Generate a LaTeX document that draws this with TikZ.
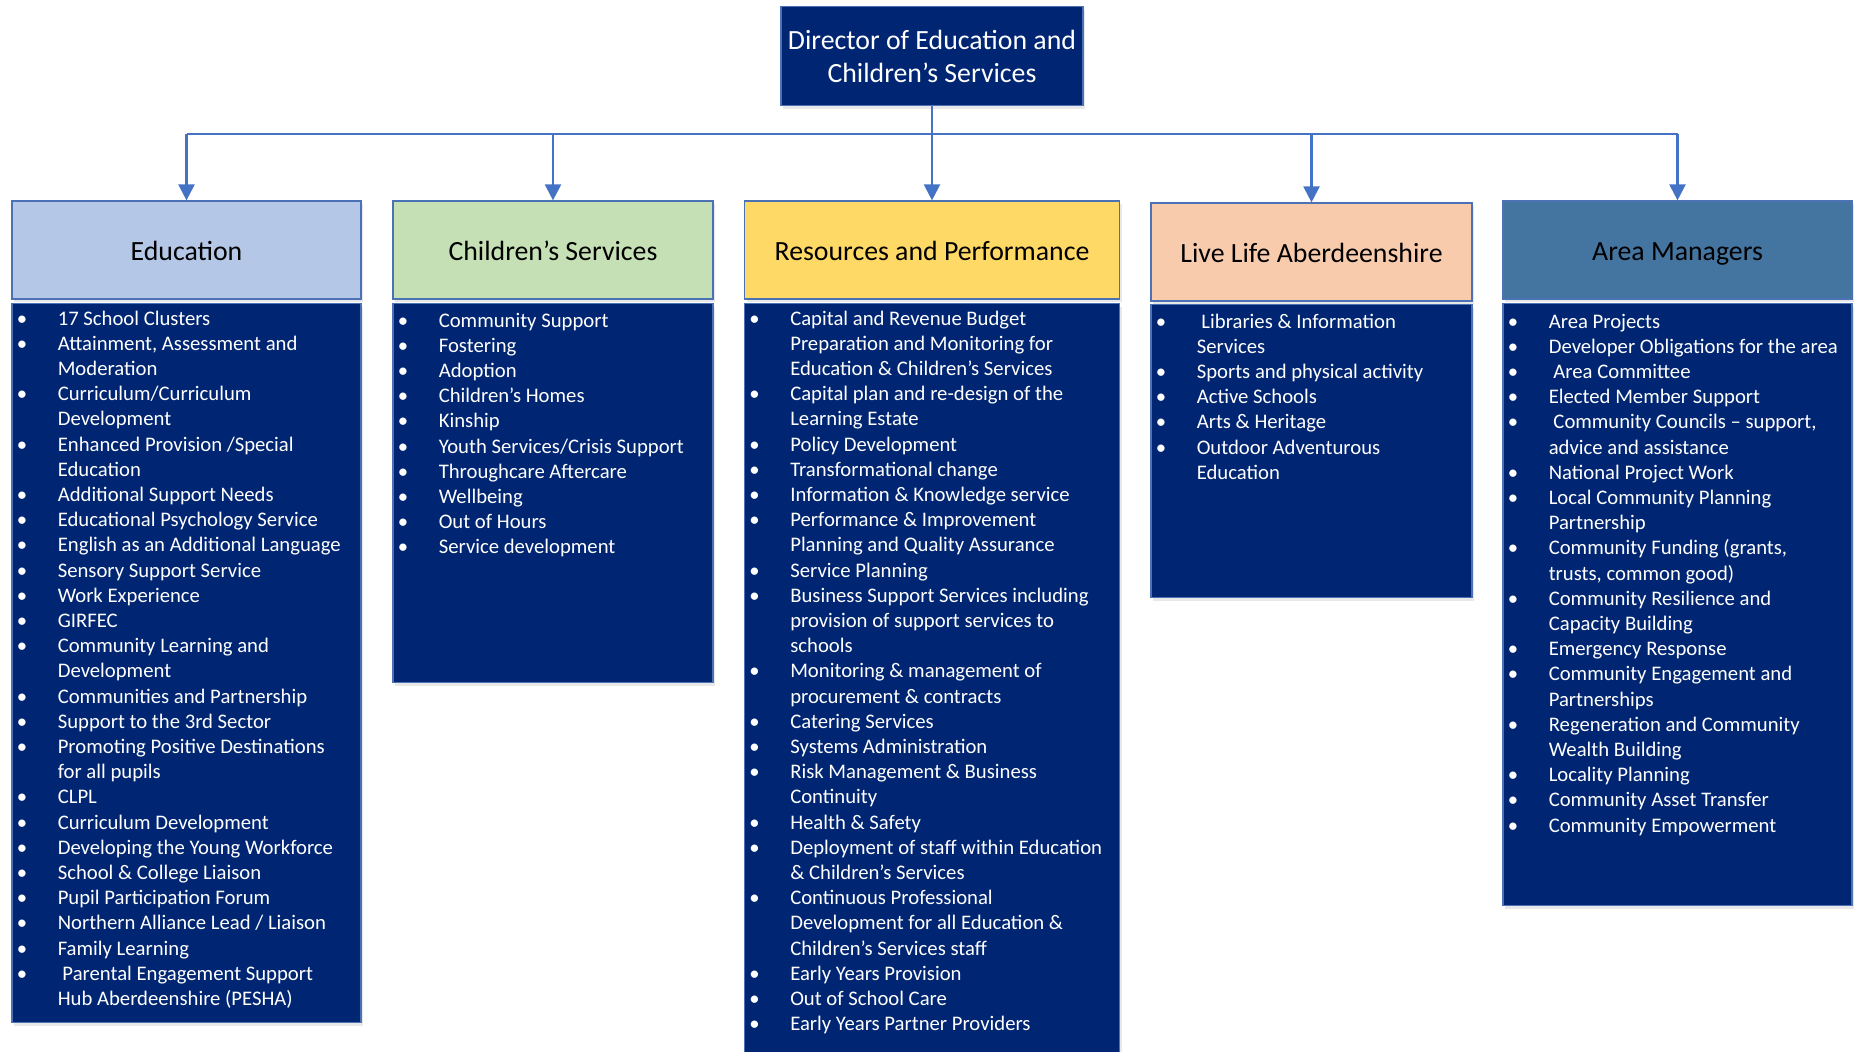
\documentclass[tikz,border=0pt]{standalone}
\usepackage{fontspec}
\setmainfont{Carlito}
\usetikzlibrary{arrows.meta,shadows}

\definecolor{navy}{RGB}{0,38,115}
\definecolor{edge}{RGB}{74,114,180}
\definecolor{linkblue}{RGB}{68,114,196}
\definecolor{eduhead}{RGB}{180,199,231}
\definecolor{chihead}{RGB}{197,224,180}
\definecolor{reshead}{RGB}{255,217,102}
\definecolor{livehead}{RGB}{248,203,173}
\definecolor{areahead}{RGB}{68,116,160}

% bullet and hanging indent for the lists
\newcommand{\bitem}{\makebox[20.5pt][l]{\textbullet}}
\newcommand{\bcont}{\hspace*{20.5pt}}

\tikzset{
  boxshadow/.style={drop shadow={shadow xshift=1pt,shadow yshift=-1.5pt,opacity=0.18,fill=gray}},
  dir/.style={draw=edge,line width=0.6pt,fill=navy,text=white,align=center,
    minimum width=151pt,minimum height=49.5pt,inner sep=0pt,
    font=\fontsize{13.9}{16.5}\selectfont,boxshadow},
  head/.style={draw=edge,line width=0.6pt,minimum height=49pt,inner sep=0pt,
    text height=12pt,text depth=1.5pt,
    font=\fontsize{13.9}{16.5}\selectfont,text=black,boxshadow},
  body/.style={draw=edge,line width=0.6pt,fill=navy,anchor=north,inner sep=0pt,boxshadow},
  items/.style={anchor=base west,inner sep=0pt,text=white,font=\fontsize{10.35}{12.6}\selectfont},
  link/.style={draw=linkblue,line width=1.1pt},
  tip/.style={-{Triangle[width=8pt,length=8pt]}}
}

\begin{document}
\begin{tikzpicture}[x=0.5pt,y=-0.5pt]
\useasboundingbox (0,0) rectangle (1854,1051);

% top box
\node [dir] (dir) at (932,56) {Director of Education and\\Children’s Services};

% column headers
\node [head,fill=eduhead,minimum width=174.5pt] (edu) at (186.5,250) {Education};
\node [head,fill=chihead,minimum width=160pt] (chi) at (553,250) {Children’s Services};
\node [head,fill=reshead,minimum width=187.5pt] (res) at (932,250) {Resources and Performance};
\node [head,fill=livehead,minimum width=160.5pt] (live) at (1311.5,252) {Live Life Aberdeenshire};
\node [head,fill=areahead,minimum width=174.5pt] (area) at (1677.5,250) {Area Managers};

% column bodies
\node [body,minimum width=174.5pt,minimum height=359.5pt] (edubody) at (186.5,303) {};
\node [body,minimum width=160pt,minimum height=189.5pt] (chibody) at (553,303) {};
\node [body,minimum width=187.5pt,minimum height=376pt] (resbody) at (932,303) {};
\node [body,minimum width=160.5pt,minimum height=146.5pt] (livebody) at (1311.5,304) {};
\node [body,minimum width=174.5pt,minimum height=301pt] (areabody) at (1677.5,303) {};

% connectors
\coordinate (bus) at (932,134);
\draw [link] (bus -| edu.north) -- (bus -| area.north);
\draw [link,tip] (dir.south) -- (res.north);
\foreach \n in {edu,chi,live,area}
  \draw [link,tip] (bus -| \n.north) -- (\n.north);

% lists
\node [items] (edulist) at ([xshift=2.5pt,yshift=-11pt]edubody.north west) {%
\begin{tabular}[t]{@{}l@{}}
\bitem 17 School Clusters\\
\bitem Attainment, Assessment and\\
\bcont Moderation\\
\bitem Curriculum/Curriculum\\
\bcont Development\\
\bitem Enhanced Provision /Special\\
\bcont Education\\
\bitem Additional Support Needs\\
\bitem Educational Psychology Service\\
\bitem English as an Additional Language\\
\bitem Sensory Support Service\\
\bitem Work Experience\\
\bitem GIRFEC\\
\bitem Community Learning and\\
\bcont Development\\
\bitem Communities and Partnership\\
\bitem Support to the 3rd Sector\\
\bitem Promoting Positive Destinations\\
\bcont for all pupils\\
\bitem CLPL\\
\bitem Curriculum Development\\
\bitem Developing the Young Workforce\\
\bitem School \& College Liaison\\
\bitem Pupil Participation Forum\\
\bitem Northern Alliance Lead / Liaison\\
\bitem Family Learning\\
\bitem \ Parental Engagement Support\\
\bcont Hub Aberdeenshire (PESHA)
\end{tabular}};

\node [items] (chilist) at ([xshift=2.5pt,yshift=-12pt]chibody.north west) {%
\begin{tabular}[t]{@{}l@{}}
\bitem Community Support\\
\bitem Fostering\\
\bitem Adoption\\
\bitem Children’s Homes\\
\bitem Kinship\\
\bitem Youth Services/Crisis Support\\
\bitem Throughcare Aftercare\\
\bitem Wellbeing\\
\bitem Out of Hours\\
\bitem Service development
\end{tabular}};

\node [items] (reslist) at ([xshift=2.5pt,yshift=-11pt]resbody.north west) {%
\begin{tabular}[t]{@{}l@{}}
\bitem Capital and Revenue Budget\\
\bcont Preparation and Monitoring for\\
\bcont Education \& Children’s Services\\
\bitem Capital plan and re-design of the\\
\bcont Learning Estate\\
\bitem Policy Development\\
\bitem Transformational change\\
\bitem Information \& Knowledge service\\
\bitem Performance \& Improvement\\
\bcont Planning and Quality Assurance\\
\bitem Service Planning\\
\bitem Business Support Services including\\
\bcont provision of support services to\\
\bcont schools\\
\bitem Monitoring \& management of\\
\bcont procurement \& contracts\\
\bitem Catering Services\\
\bitem Systems Administration\\
\bitem Risk Management \& Business\\
\bcont Continuity\\
\bitem Health \& Safety\\
\bitem Deployment of staff within Education\\
\bcont \& Children’s Services\\
\bitem Continuous Professional\\
\bcont Development for all Education \&\\
\bcont Children’s Services staff\\
\bitem Early Years Provision\\
\bitem Out of School Care\\
\bitem Early Years Partner Providers
\end{tabular}};

\node [items] (livelist) at ([xshift=2.5pt,yshift=-12pt]livebody.north west) {%
\begin{tabular}[t]{@{}l@{}}
\bitem \ Libraries \& Information\\
\bcont Services\\
\bitem Sports and physical activity\\
\bitem Active Schools\\
\bitem Arts \& Heritage\\
\bitem Outdoor Adventurous\\
\bcont Education
\end{tabular}};

\node [items] (arealist) at ([xshift=2.5pt,yshift=-12.5pt]areabody.north west) {%
\begin{tabular}[t]{@{}l@{}}
\bitem Area Projects\\
\bitem Developer Obligations for the area\\
\bitem \ Area Committee\\
\bitem Elected Member Support\\
\bitem \ Community Councils – support,\\
\bcont advice and assistance\\
\bitem National Project Work\\
\bitem Local Community Planning\\
\bcont Partnership\\
\bitem Community Funding (grants,\\
\bcont trusts, common good)\\
\bitem Community Resilience and\\
\bcont Capacity Building\\
\bitem Emergency Response\\
\bitem Community Engagement and\\
\bcont Partnerships\\
\bitem Regeneration and Community\\
\bcont Wealth Building\\
\bitem Locality Planning\\
\bitem Community Asset Transfer\\
\bitem Community Empowerment
\end{tabular}};
\end{tikzpicture}
\end{document}
